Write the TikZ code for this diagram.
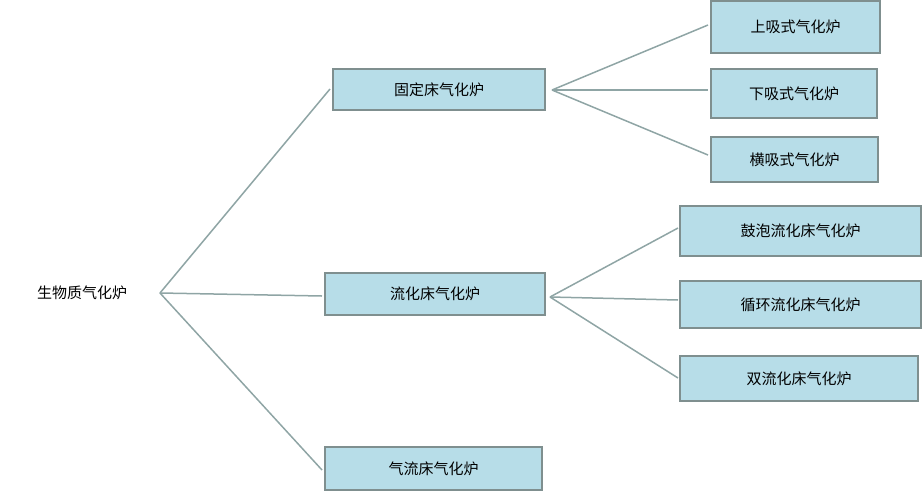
\documentclass[tikz,border=0pt]{standalone}
\usepackage{fontspec}
\newfontfamily\cjk{Noto Sans CJK SC}
\definecolor{boxfill}{HTML}{B7DDE8}
\definecolor{boxline}{HTML}{7F8F8F}
\definecolor{conn}{HTML}{8FA5A5}
\tikzset{
  bx/.style={draw=boxline,line width=1.2pt,fill=boxfill,font=\cjk\fontsize{15}{18}\selectfont,inner sep=0pt},
  ln/.style={draw=conn,line width=1.5pt}
}
\begin{document}
\begin{tikzpicture}[x=1pt,y=-1pt]
\useasboundingbox (0,0) rectangle (924,493);
\node[font=\cjk\fontsize{15}{18}\selectfont,inner sep=0pt] (root) at (82,293) {生物质气化炉};
\coordinate (r) at (160,293);
\node[bx,minimum width=212pt,minimum height=41pt] (fix) at (439,89.5) {固定床气化炉};
\node[bx,minimum width=220pt,minimum height=42pt] (flu) at (435,294) {流化床气化炉};
\node[bx,minimum width=217pt,minimum height=43pt] (air) at (433.5,468.5) {气流床气化炉};
\node[bx,minimum width=169pt,minimum height=52pt] (a1) at (795.5,27) {上吸式气化炉};
\node[bx,minimum width=166pt,minimum height=49pt] (a2) at (794,93.5) {下吸式气化炉};
\node[bx,minimum width=167pt,minimum height=45pt] (a3) at (794.5,159.5) {横吸式气化炉};
\node[bx,minimum width=241pt,minimum height=50pt] (b1) at (800.5,231) {鼓泡流化床气化炉};
\node[bx,minimum width=241pt,minimum height=47pt] (b2) at (800.5,304.5) {循环流化床气化炉};
\node[bx,minimum width=238pt,minimum height=45pt] (b3) at (799,378.5) {双流化床气化炉};
\coordinate (f) at (552,90);
\coordinate (g) at (550,297);
\draw[ln] (r) -- (330,89);
\draw[ln] (r) -- (322,296);
\draw[ln] (r) -- (322,470);
\draw[ln] (f) -- (708,25);
\draw[ln] (f) -- (708,90);
\draw[ln] (f) -- (708,155);
\draw[ln] (g) -- (678,228);
\draw[ln] (g) -- (678,300);
\draw[ln] (g) -- (678,378);
\end{tikzpicture}
\end{document}
